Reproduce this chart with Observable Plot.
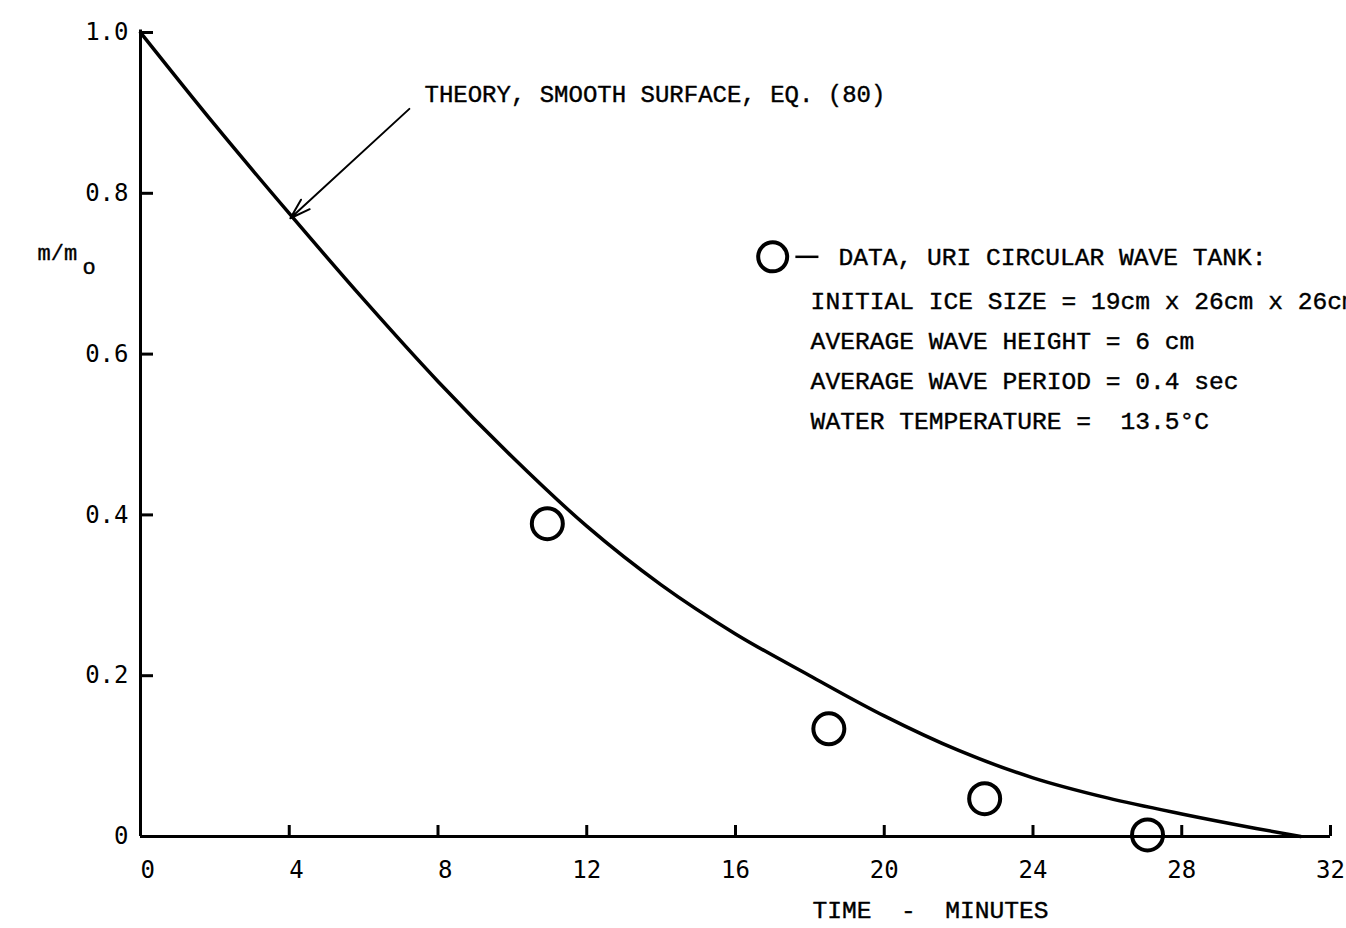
<!DOCTYPE html>
<html><head><meta charset="utf-8">
<script src="https://cdn.jsdelivr.net/npm/d3@7"></script>
<script src="https://cdn.jsdelivr.net/npm/@observablehq/plot@0.6"></script>
<style>
html,body{margin:0;padding:0;background:#fff;overflow:hidden;}
</style></head><body><div id="chart"></div>
<script>
// ---- data ----
const xTicks = [0, 4, 8, 12, 16, 20, 24, 28, 32];
const xTickLabels = ["0", "4", "8", "12", "16", "20", "24", "28", "32"];
const yTicks = [0, 0.2, 0.4, 0.6, 0.8, 1.0];
const yTickLabels = ["0", "0.2", "0.4", "0.6", "0.8", "1.0"];

// theory curve (smooth surface, eq. 80)
const theoryT = [0, 2, 4, 6, 8, 10, 12, 14, 16, 18, 20, 22, 24, 26, 28, 30, 31.2];
const theoryM = [1.0, 0.885, 0.775, 0.668, 0.566, 0.472, 0.386, 0.313, 0.252, 0.200, 0.150, 0.107, 0.073, 0.048, 0.028, 0.010, 0];

// measured data (URI circular wave tank)
const dataT = [10.94, 18.51, 22.70, 27.08];
const dataM = [0.389, 0.134, 0.047, 0.002];

const theoryLabel = "THEORY, SMOOTH SURFACE, EQ. (80)";
const legendTitle = "DATA, URI CIRCULAR WAVE TANK:";
const legendLines = [
  "INITIAL ICE SIZE = 19cm x 26cm x 26cm",
  "AVERAGE WAVE HEIGHT = 6 cm",
  "AVERAGE WAVE PERIOD = 0.4 sec",
  "WATER TEMPERATURE =\u00a0\u00a013.5\u00b0C"
];
const xLabel = "TIME\u00a0\u00a0-\u00a0\u00a0MINUTES";

// ---- tables ----
const theory = theoryT.map((t, i) => ({t, m: theoryM[i]}));
const data = dataT.map((t, i) => ({t, m: dataM[i]}));
const pad2 = s => s.length < 2 ? "\u00a0" + s : s;

const W = 1346, H = 928, ML = 140, MR = 16, MT = 32, MB = 92;
const frameW = W - ML - MR, frameH = H - MT - MB;
const mono = "Liberation Mono";
const tickFont = "DejaVu Sans Mono";

const chart = Plot.plot({
  width: W, height: H,
  marginLeft: ML, marginRight: MR, marginTop: MT, marginBottom: MB,
  x: {domain: [0, 32], axis: null},
  y: {domain: [0, 1], axis: null},
  style: {background: "white", color: "black", fontFamily: mono},
  marks: [
    // axes lines
    Plot.ruleX([0], {y1: 0, y2: 1.003, stroke: "black", strokeWidth: 3}),
    Plot.ruleY([0], {x1: 0, x2: 32, stroke: "black", strokeWidth: 3}),
    // inward ticks
    Plot.tickY(yTicks.filter(d => d > 0), {y: d => d, insetRight: frameW - 13, stroke: "black", strokeWidth: 3}),
    Plot.tickX(xTicks.filter(d => d > 0), {x: d => d, insetTop: frameH - 11, stroke: "black", strokeWidth: 3}),
    // tick labels
    Plot.text(yTicks, {x: 0, y: d => d, text: (d, i) => yTickLabels[i], textAnchor: "end", dx: -12,
      fontFamily: tickFont, fontSize: 24, fill: "black", ariaLabel: "ytick-labels"}),
    Plot.text(xTicks, {x: d => d, y: 0, text: (d, i) => pad2(xTickLabels[i]), dy: 34,
      fontFamily: tickFont, fontSize: 24, fill: "black", ariaLabel: "xtick-labels"}),
    // theory curve
    Plot.line(theory, {x: "t", y: "m", curve: "monotone-x", stroke: "black", strokeWidth: 3.5}),
    // data circles
    Plot.dot(data, {x: "t", y: "m", r: 15.5, stroke: "black", strokeWidth: 4, fill: "none"}),
    // arrow + theory label
    Plot.arrow([0], {x1: 7.23, y1: 0.905, x2: 4.03, y2: 0.769, stroke: "black", strokeWidth: 2,
      headLength: 16, headAngle: 35}),
    Plot.text([theoryLabel], {x: 7.637, y: 0.923, text: d => d, textAnchor: "start",
      fontFamily: mono, fontSize: 24, fill: "black", stroke: "black", strokeWidth: 0.4}),
    // legend
    Plot.dot([0], {x: 17.0, y: 0.721, r: 14.5, stroke: "black", strokeWidth: 4, fill: "none"}),
    Plot.link([0], {x1: 17.61, x2: 18.23, y1: 0.721, y2: 0.721, stroke: "black", strokeWidth: 2.5}),
    Plot.text([legendTitle], {x: 18.77, y: 0.721, text: d => d, textAnchor: "start",
      fontFamily: mono, fontSize: 24.6, fill: "black", stroke: "black", strokeWidth: 0.4}),
    Plot.text([legendLines.join("\n")], {x: 18.02, y: 0.597, text: d => d, textAnchor: "start",
      lineHeight: 40 / 24.6, fontFamily: mono, fontSize: 24.6, fill: "black", stroke: "black", strokeWidth: 0.4}),
    // axis labels
    Plot.text(["m/m"], {x: -2.77, y: 0.726, text: d => d, textAnchor: "start",
      fontFamily: mono, fontSize: 22, fill: "black", stroke: "black", strokeWidth: 0.4}),
    Plot.text(["o"], {x: -1.56, y: 0.708, text: d => d, textAnchor: "start",
      fontFamily: mono, fontSize: 22, fill: "black", stroke: "black", strokeWidth: 0.4}),
    Plot.text([xLabel], {x: 18.07, y: -0.092, text: d => d, textAnchor: "start",
      fontFamily: mono, fontSize: 24.6, fill: "black", stroke: "black", strokeWidth: 0.4})
  ]
});

d3.select(chart).selectAll('g[aria-label="ytick-labels"], g[aria-label="xtick-labels"]')
  .attr("letter-spacing", "1.5");

document.getElementById("chart").appendChild(chart);
</script>
</body></html>
